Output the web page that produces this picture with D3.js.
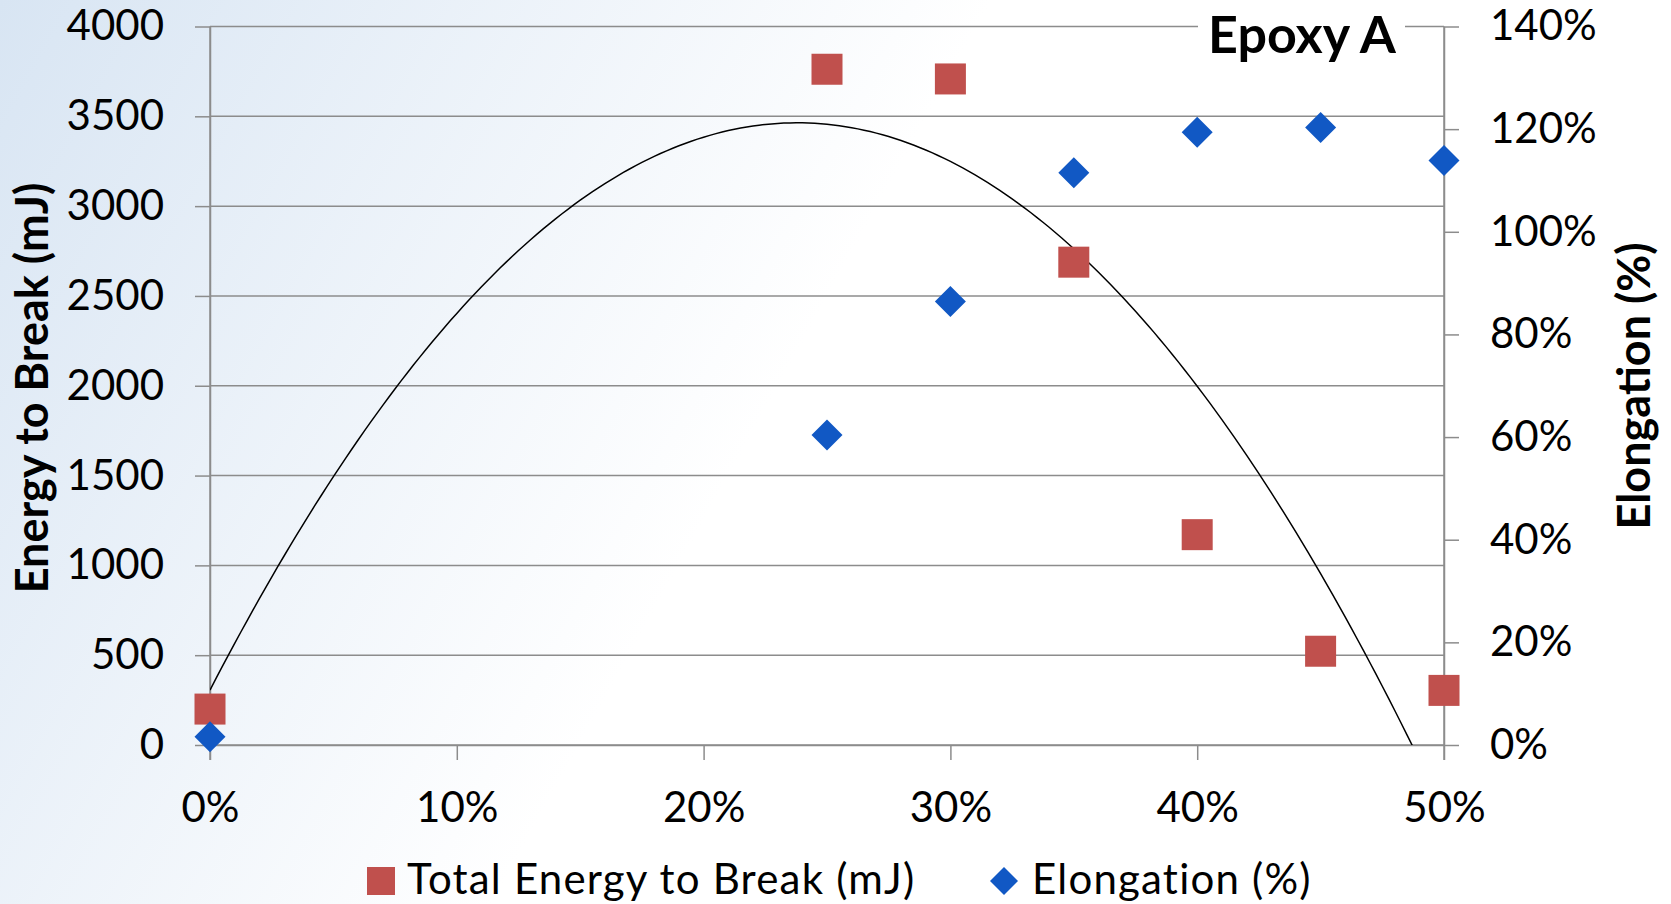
<!DOCTYPE html>
<html>
<head>
<meta charset="utf-8">
<script src="https://cdn.jsdelivr.net/npm/d3@7"></script>
<style>
  html, body { margin: 0; padding: 0; background: #fff; }
  svg { display: block; font-family: Lato, "Open Sans", sans-serif; }
</style>
</head>
<body>
<svg id="chart" width="1671" height="904"></svg>
<script>
// ---- data ----
const fillerLevels = [0, 0.25, 0.30, 0.35, 0.40, 0.45, 0.50];
const totalEnergy = [200, 3762, 3708, 2688, 1171, 522, 304];
const elongation = [0.016, 0.604, 0.864, 1.115, 1.194, 1.203, 1.139];
const xTickValues = [0, 0.1, 0.2, 0.3, 0.4, 0.5];
const leftTickValues = [0, 500, 1000, 1500, 2000, 2500, 3000, 3500, 4000];
const rightTickValues = [0, 0.2, 0.4, 0.6, 0.8, 1.0, 1.2, 1.4];
const seriesNames = ["Total Energy to Break (mJ)", "Elongation (%)"];
const chartTitle = "Epoxy A";
const leftAxisTitle = "Energy to Break (mJ)";
const rightAxisTitle = "Elongation (%)";

// ---- layout ----
const W = 1671, H = 904;
const plot = { left: 210, right: 1444, top: 26.5, bottom: 745 };
const gridColor = "#8c8c8c";
const red = "#C0504D", blue = "#1158C4";
const tickFont = "42px";

const svg = d3.select("#chart");

// background gradient
const defs = svg.append("defs");
const grad = defs.append("linearGradient").attr("id", "bg")
  .attr("gradientUnits", "userSpaceOnUse")
  .attr("x1", 0).attr("y1", 0).attr("x2", 760).attr("y2", 420);
grad.append("stop").attr("offset", 0).attr("stop-color", "#d8e5f3");
grad.append("stop").attr("offset", 1).attr("stop-color", "#ffffff");
svg.append("rect").attr("width", W).attr("height", H).attr("fill", "url(#bg)");

defs.append("clipPath").attr("id", "plotClip").append("rect")
  .attr("x", plot.left).attr("y", plot.top)
  .attr("width", plot.right - plot.left).attr("height", plot.bottom - plot.top);

// scales
const x = d3.scaleLinear().domain([0, 0.5]).range([plot.left, plot.right]);
const yL = d3.scaleLinear().domain([0, 4000]).range([plot.bottom, plot.top]);
const yR = d3.scaleLinear().domain([0, 1.4]).range([plot.bottom, plot.top]);

// gridlines
svg.append("g").selectAll("line").data(leftTickValues).join("line")
  .attr("x1", plot.left).attr("x2", plot.right)
  .attr("y1", d => yL(d)).attr("y2", d => yL(d))
  .attr("stroke", gridColor).attr("stroke-width", 1.5);

function styleAxis(g) {
  g.selectAll(".domain").attr("stroke", gridColor).attr("stroke-width", 1.5);
  g.selectAll(".tick line").attr("stroke", gridColor).attr("stroke-width", 1.5);
  g.selectAll(".tick text").attr("fill", "#000").style("font-size", tickFont)
    .style("font-family", "Lato, 'Open Sans', sans-serif");
}

// left axis
svg.append("g").attr("transform", `translate(${plot.left},0)`)
  .call(d3.axisLeft(yL).tickValues(leftTickValues).tickSizeInner(15).tickSizeOuter(0).tickPadding(31).tickFormat(d3.format("d")))
  .call(styleAxis);

// right axis
svg.append("g").attr("transform", `translate(${plot.right},0)`)
  .call(d3.axisRight(yR).tickValues(rightTickValues).tickSizeInner(15).tickSizeOuter(0).tickPadding(31).tickFormat(d3.format(".0%")))
  .call(styleAxis);

// bottom axis
svg.append("g").attr("transform", `translate(0,${plot.bottom})`)
  .call(d3.axisBottom(x).tickValues(xTickValues).tickSizeInner(15).tickSizeOuter(0).tickPadding(32).tickFormat(d3.format(".0%")))
  .call(styleAxis);

// extend vertical axes down to the x tick length
svg.append("line").attr("x1", plot.left).attr("x2", plot.left).attr("y1", plot.top).attr("y2", plot.bottom + 15)
  .attr("stroke", gridColor).attr("stroke-width", 1.5);
svg.append("line").attr("x1", plot.right).attr("x2", plot.right).attr("y1", plot.top).attr("y2", plot.bottom + 15)
  .attr("stroke", gridColor).attr("stroke-width", 1.5);

// quadratic least-squares trendline of energy series
function quadFit(xs, ys) {
  let n = xs.length, s = [0,0,0,0,0], t = [0,0,0];
  for (let i = 0; i < n; i++) {
    const xi = xs[i], yi = ys[i];
    for (let k = 0; k < 5; k++) s[k] += Math.pow(xi, k);
    for (let k = 0; k < 3; k++) t[k] += yi * Math.pow(xi, k);
  }
  const M = [[s[0], s[1], s[2], t[0]], [s[1], s[2], s[3], t[1]], [s[2], s[3], s[4], t[2]]];
  for (let i = 0; i < 3; i++) {
    let p = i;
    for (let r = i + 1; r < 3; r++) if (Math.abs(M[r][i]) > Math.abs(M[p][i])) p = r;
    [M[i], M[p]] = [M[p], M[i]];
    for (let r = 0; r < 3; r++) {
      if (r === i) continue;
      const f = M[r][i] / M[i][i];
      for (let c = i; c < 4; c++) M[r][c] -= f * M[i][c];
    }
  }
  return [M[0][3] / M[0][0], M[1][3] / M[1][1], M[2][3] / M[2][2]];
}
const [a0, a1, a2] = quadFit(fillerLevels, totalEnergy);
const trendX = d3.range(0, 0.5001, 0.0025);
svg.append("path").attr("clip-path", "url(#plotClip)")
  .datum(trendX)
  .attr("d", d3.line().x(d => x(d)).y(d => yL(a0 + a1 * d + a2 * d * d)))
  .attr("fill", "none").attr("stroke", "#000").attr("stroke-width", 1.5);

// energy squares
const sq = 31;
svg.append("g").selectAll("rect").data(fillerLevels).join("rect")
  .attr("x", (d) => x(d) - sq / 2)
  .attr("y", (d, i) => yL(totalEnergy[i]) - sq / 2)
  .attr("width", sq).attr("height", sq).attr("fill", red);

// elongation diamonds
const dia = 15.5;
const diamondPath = `M0,${-dia}L${dia},0L0,${dia}L${-dia},0Z`;
svg.append("g").selectAll("path").data(fillerLevels).join("path")
  .attr("transform", (d, i) => `translate(${x(d)},${yR(elongation[i])})`)
  .attr("d", diamondPath).attr("fill", blue);

// title with white backing
svg.append("rect").attr("x", 1198).attr("y", 8).attr("width", 207).attr("height", 50).attr("fill", "#fff");
svg.append("text").attr("x", 1302).attr("y", 53).attr("text-anchor", "middle")
  .style("font-size", "52px").style("font-weight", "bold").text(chartTitle);

// axis titles
svg.append("text").attr("transform", `translate(48,388) rotate(-90)`).attr("text-anchor", "middle")
  .style("font-size", "45px").style("font-weight", "bold").text(leftAxisTitle);
svg.append("text").attr("transform", `translate(1650,386) rotate(-90)`).attr("text-anchor", "middle")
  .style("font-size", "45px").style("font-weight", "bold").text(rightAxisTitle);

// legend
const legend = svg.append("g");
legend.append("rect").attr("x", 367).attr("y", 867).attr("width", 28).attr("height", 28).attr("fill", red);
legend.append("text").attr("x", 407).attr("y", 894).style("font-size", tickFont)
  .style("letter-spacing", "1.2px").text(seriesNames[0]);
const ld = 14;
legend.append("path").attr("transform", "translate(1004,881)")
  .attr("d", `M0,${-ld}L${ld},0L0,${ld}L${-ld},0Z`).attr("fill", blue);
legend.append("text").attr("x", 1032).attr("y", 894).style("font-size", tickFont)
  .style("letter-spacing", "1.2px").text(seriesNames[1]);
</script>
</body>
</html>
